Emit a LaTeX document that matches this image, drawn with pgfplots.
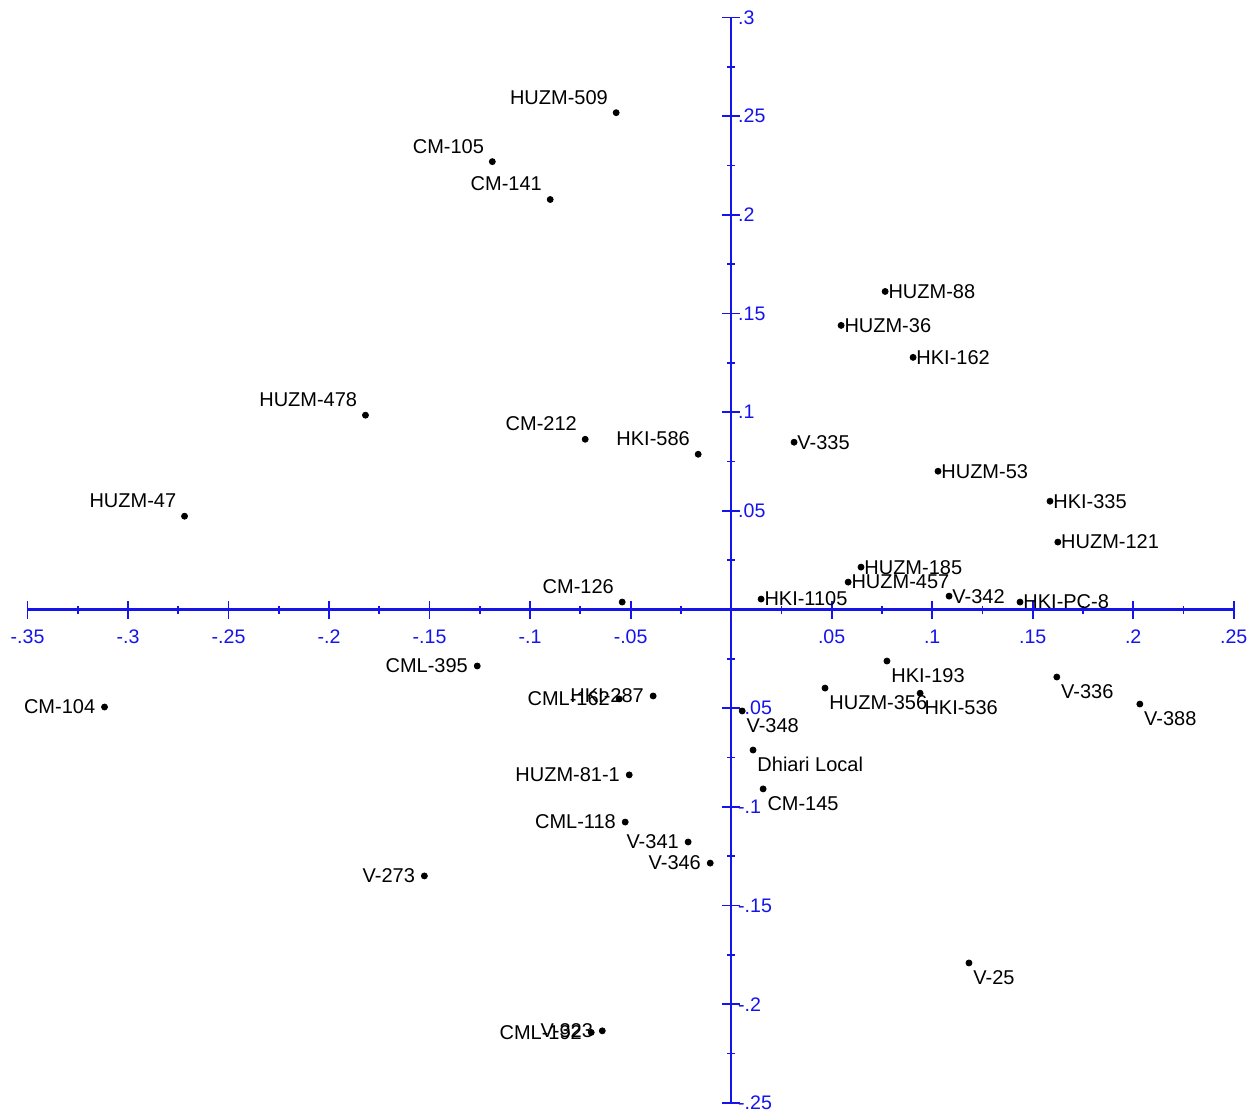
\documentclass[border=0pt]{standalone}
\usepackage{fontspec}
\setmainfont{Liberation Sans}
\usepackage{pgfplots}
\pgfplotsset{compat=1.18}
\definecolor{axblue}{RGB}{20,20,235}
\begin{document}
\begin{tikzpicture}
\begin{axis}[
  scale only axis,
  width=603.5pt, height=543pt,
  xmin=-0.35, xmax=0.25, ymin=-0.25, ymax=0.3,
  axis lines=middle,
  axis line style={axblue, line width=1.1pt, -},
  enlargelimits=false,
  clip=false,
  tick align=center,
  major tick length=9pt,
  minor tick length=4pt,
  every tick/.style={axblue, line width=0.9pt},
  xtick={-.35,-.3,-.25,-.2,-.15,-.1,-.05,.05,.1,.15,.2,.25},
  xticklabels={-.35,-.3,-.25,-.2,-.15,-.1,-.05,.05,.1,.15,.2,.25},
  minor xtick={-.325,-.275,-.225,-.175,-.125,-.075,-.025,.025,.075,.125,.175,.225},
  ytick={-.25,-.2,-.15,-.1,-.05,.05,.1,.15,.2,.25,.3},
  yticklabels={-.25,-.2,-.15,-.1,-.05,.05,.1,.15,.2,.25,.3},
  minor ytick={-.225,-.175,-.125,-.075,-.025,.025,.075,.125,.175,.225,.275},
  tick label style={text=axblue, font=\fontsize{9.8}{11}\selectfont},
  xticklabel style={anchor=north, yshift=-2pt},
  yticklabel style={anchor=west, xshift=4.5pt},
  only marks,
  mark=*,
  mark size=1.5pt,
  point meta=explicit symbolic,
  nodes near coords,
  every node near coord/.append style={font=\fontsize{10}{12}\selectfont, text=black, inner sep=0.5pt},
]
% labels up-left of the point
\addplot[black, nodes near coords style={anchor=south east, xshift=-3.5pt, yshift=3.5pt}] coordinates {
  (-0.0572,0.2518) [HUZM-509]
  (-0.1188,0.2270) [CM-105]
  (-0.0900,0.2078) [CM-141]
  (-0.1819,0.0985) [HUZM-478]
  (-0.0726,0.0863) [CM-212]
  (-0.0164,0.0787) [HKI-586]
  (-0.2719,0.0473) [HUZM-47]
  (-0.0542,0.0038) [CM-126]
};
% labels left of the point
\addplot[black, nodes near coords style={anchor=east, xshift=-4pt}] coordinates {
  (-0.1263,-0.0286) [CML-395]
  (-0.3117,-0.0494) [CM-104]
  (-0.0388,-0.0438) [HKI-287]
  (-0.0557,-0.0453) [CML-162]
  (-0.0507,-0.0838) [HUZM-81-1]
  (-0.0527,-0.1077) [CML-118]
  (-0.0214,-0.1178) [V-341]
  (-0.0104,-0.1285) [V-346]
  (-0.1526,-0.1350) [V-273]
  (-0.0696,-0.2143) [CML-192]
  (-0.0641,-0.2135) [V-323]
};
% labels right of the point
\addplot[black, nodes near coords style={anchor=west, xshift=1pt}] coordinates {
  (0.0766,0.1612) [HUZM-88]
  (0.0547,0.1440) [HUZM-36]
  (0.0905,0.1278) [HKI-162]
  (0.0313,0.0848) [V-335]
  (0.1029,0.0701) [HUZM-53]
  (0.1586,0.0549) [HKI-335]
  (0.1625,0.0342) [HUZM-121]
  (0.0646,0.0215) [HUZM-185]
  (0.0582,0.0139) [HUZM-457]
  (0.0149,0.0053) [HKI-1105]
  (0.1084,0.0068) [V-342]
  (0.1437,0.0038) [HKI-PC-8]
};
% labels down-right of the point
\addplot[black, nodes near coords style={anchor=north west, xshift=1.5pt, yshift=-3pt}] coordinates {
  (0.0775,-0.0261) [HKI-193]
  (0.0467,-0.0398) [HUZM-356]
  (0.0940,-0.0424) [HKI-536]
  (0.1620,-0.0342) [V-336]
  (0.2033,-0.0479) [V-388]
  (0.0055,-0.0514) [V-348]
  (0.0109,-0.0712) [Dhiari Local]
  (0.0159,-0.0909) [CM-145]
  (0.1183,-0.1791) [V-25]
};
\end{axis}
% a little white margin, as in the reference
\path (current bounding box.south west) ++(-2pt,0pt)
      (current bounding box.north east) ++(2pt,2pt);
\end{tikzpicture}
\end{document}
